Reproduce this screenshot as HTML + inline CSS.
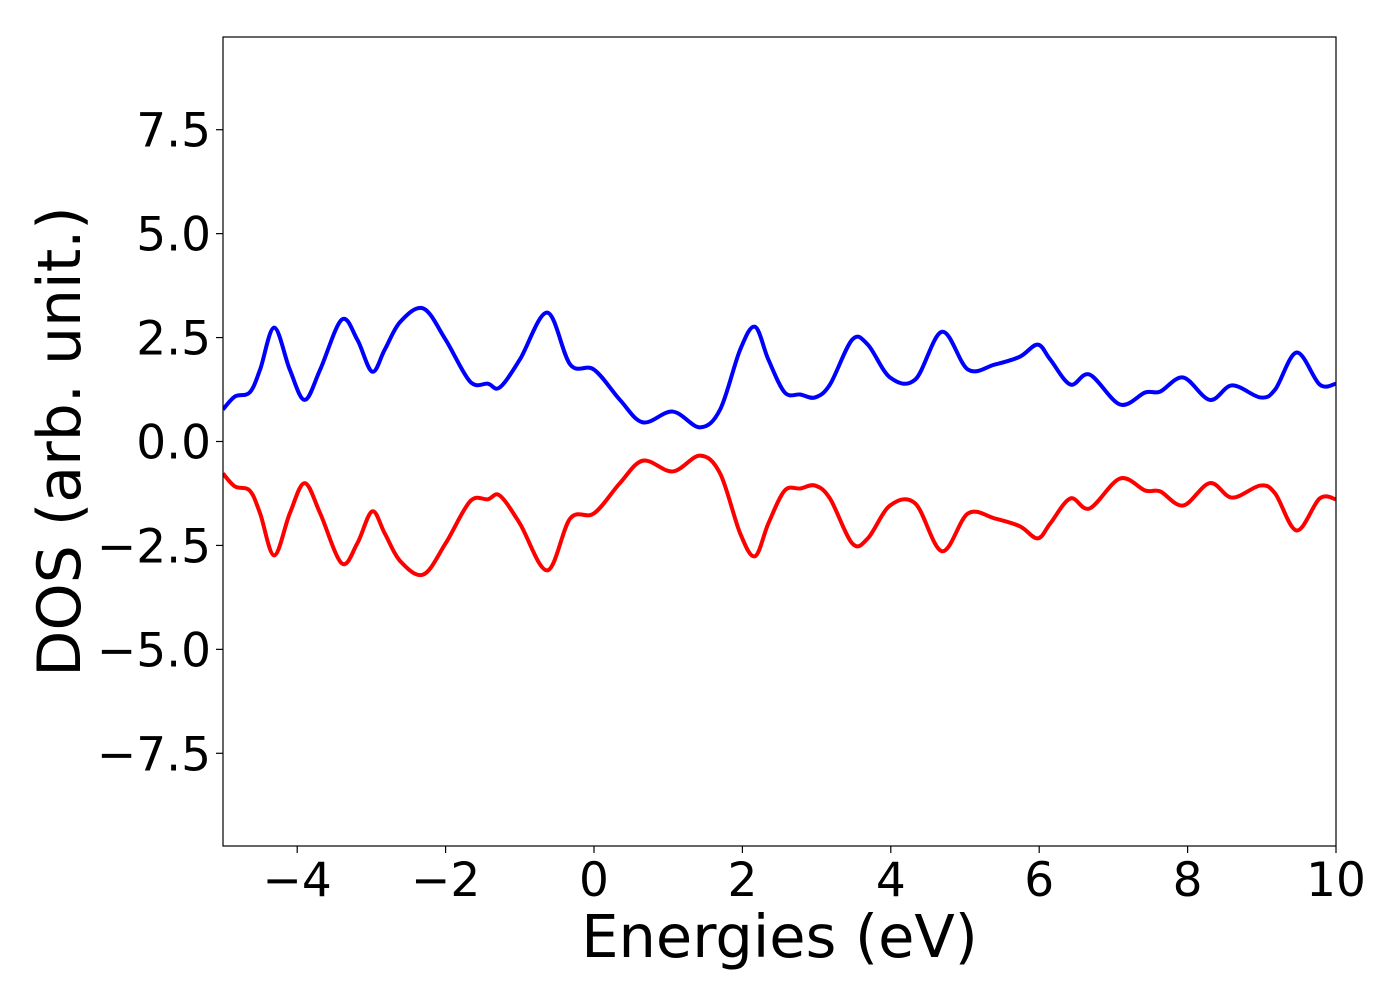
<!DOCTYPE html>
<html><head><meta charset="utf-8"><style>
body{margin:0;background:#fff;}
svg{display:block;font-family:"DejaVu Sans","Liberation Sans",sans-serif;}
</style></head><body>
<svg id="chart" width="1400" height="1000"></svg>
<script>
const energies=[-5,-4.84,-4.64,-4.5,-4.31,-4.1,-3.9,-3.69,-3.4,-3.19,-2.99,-2.82,-2.61,-2.3,-2.0,-1.67,-1.43,-1.27,-1.0,-0.63,-0.32,0,0.35,0.66,1.06,1.43,1.7,1.97,2.17,2.35,2.57,2.78,2.98,3.18,3.48,3.69,3.99,4.33,4.69,5.04,5.4,5.74,5.98,6.15,6.42,6.68,7.09,7.43,7.63,7.94,8.3,8.6,8.98,9.18,9.47,9.78,10];
const spinUp=[0.77,1.08,1.18,1.73,2.74,1.73,1.0,1.73,2.93,2.45,1.68,2.21,2.88,3.2,2.45,1.44,1.39,1.3,1.97,3.1,1.85,1.73,1.0,0.46,0.72,0.34,0.77,2.21,2.76,1.97,1.18,1.13,1.06,1.37,2.45,2.33,1.54,1.49,2.64,1.73,1.85,2.04,2.33,1.97,1.37,1.61,0.89,1.18,1.2,1.54,1.0,1.35,1.06,1.25,2.14,1.37,1.39];
const spinDown=[-0.77,-1.08,-1.18,-1.73,-2.74,-1.73,-1.0,-1.73,-2.93,-2.45,-1.68,-2.21,-2.88,-3.2,-2.45,-1.44,-1.39,-1.3,-1.97,-3.1,-1.85,-1.73,-1.0,-0.46,-0.72,-0.34,-0.77,-2.21,-2.76,-1.97,-1.18,-1.13,-1.06,-1.37,-2.45,-2.33,-1.54,-1.49,-2.64,-1.73,-1.85,-2.04,-2.33,-1.97,-1.37,-1.61,-0.89,-1.18,-1.2,-1.54,-1.0,-1.35,-1.06,-1.25,-2.14,-1.37,-1.39];
const xTicks=[-4,-2,0,2,4,6,8,10];
const xTickLabels=["\u22124","\u22122","0","2","4","6","8","10"];
const yTicks=[-7.5,-5,-2.5,0,2.5,5,7.5];
const yTickLabels=["\u22127.5","\u22125.0","\u22122.5","0.0","2.5","5.0","7.5"];

const L=223,R=1336,T=37,B=846,xmin=-5,xmax=10,ymin=-9.73,ymax=9.73;
const sx=v=>L+(v-xmin)/(xmax-xmin)*(R-L);
const sy=v=>B-(v-ymin)/(ymax-ymin)*(B-T);
const svg=document.getElementById('chart');
const NS='http://www.w3.org/2000/svg';
function mk(tag,attrs,parent){const e=document.createElementNS(NS,tag);for(const k in attrs)e.setAttribute(k,attrs[k]);(parent||svg).appendChild(e);return e;}
function pathFor(xs,ys){
  const p=xs.map((x,i)=>[sx(x),sy(ys[i])]);
  let d=`M${p[0][0]},${p[0][1]}`;
  for(let i=0;i<p.length-1;i++){
    const p0=p[i-1]||p[i],p1=p[i],p2=p[i+1],p3=p[i+2]||p2;
    const c1=[p1[0]+(p2[0]-p0[0])/6,p1[1]+(p2[1]-p0[1])/6];
    const c2=[p2[0]-(p3[0]-p1[0])/6,p2[1]-(p3[1]-p1[1])/6];
    d+=` C${c1[0]},${c1[1]} ${c2[0]},${c2[1]} ${p2[0]},${p2[1]}`;
  }
  return d;
}
const cp=mk('clipPath',{id:'clip'});
mk('rect',{x:L,y:T,width:R-L,height:B-T},cp);
const up=mk('path',{d:pathFor(energies,spinUp),fill:'none',stroke:'#0000ff','stroke-width':4,'clip-path':'url(#clip)'});


const dn=mk('path',{d:pathFor(energies,spinDown),fill:'none',stroke:'#ff0000','stroke-width':4,'clip-path':'url(#clip)'});


const frame=mk('rect',{x:L,y:T,width:R-L,height:B-T,fill:'none',stroke:'#000','stroke-width':1.2});


xTicks.forEach((v,i)=>{
  mk('line',{x1:sx(v),x2:sx(v),y1:B,y2:B+7,stroke:'#000','stroke-width':1.2});
  const t=mk('text',{x:sx(v),y:B+50,'text-anchor':'middle','font-size':47,fill:'#000'});
  t.textContent=xTickLabels[i];
  
  
});
yTicks.forEach((v,i)=>{
  mk('line',{x1:L-7,x2:L,y1:sy(v),y2:sy(v),stroke:'#000','stroke-width':1.2});
  const t=mk('text',{x:L-12,y:sy(v)+17,'text-anchor':'end','font-size':47,fill:'#000'});
  t.textContent=yTickLabels[i];
  
  
});
const xl=mk('text',{x:(L+R)/2,y:957,'text-anchor':'middle','font-size':59,fill:'#000'});
xl.textContent='Energies (eV)';


const yl=mk('text',{x:0,y:0,'text-anchor':'middle','font-size':60,fill:'#000',transform:`translate(80,${(T+B)/2}) rotate(-90)`});
yl.textContent='DOS (arb. unit.)';


</script>
</body></html>
